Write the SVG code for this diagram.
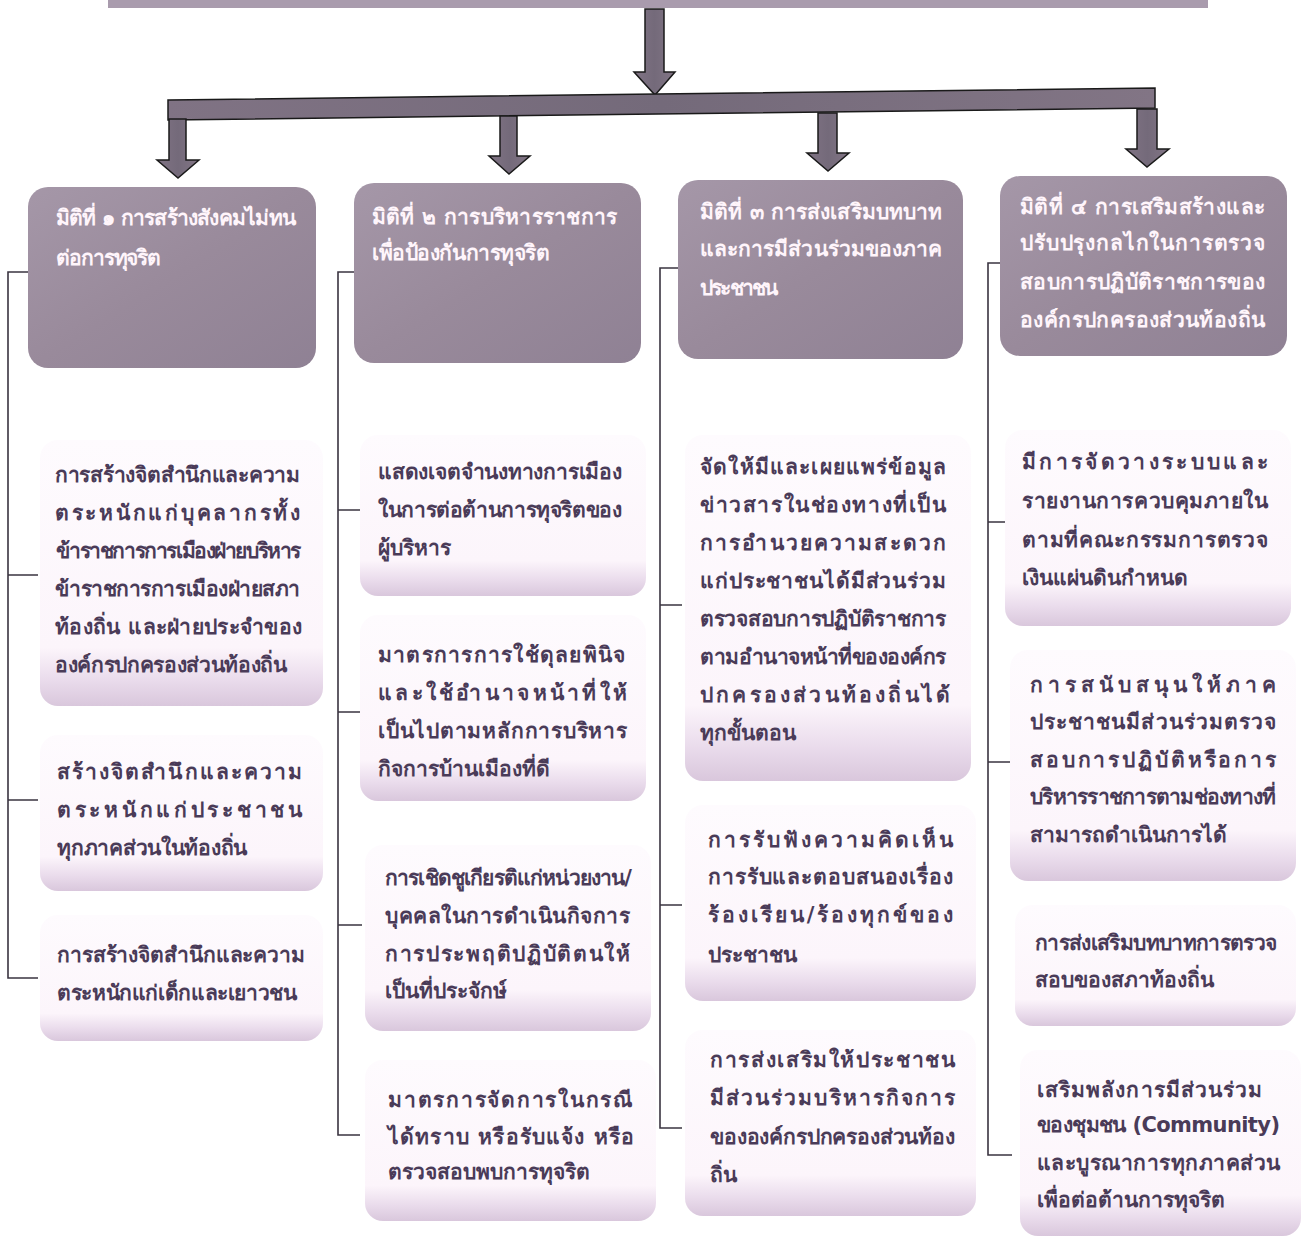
<svg xmlns="http://www.w3.org/2000/svg" width="1314" height="1245" viewBox="0 0 1314 1245">
<defs>
<linearGradient id="hdr" x1="0" y1="0" x2="1" y2="1">
<stop offset="0" stop-color="#a597a8"/><stop offset="0.5" stop-color="#998a9b"/><stop offset="1" stop-color="#8f8194"/>
</linearGradient>
<linearGradient id="item" x1="0" y1="0" x2="0" y2="1">
<stop offset="0" stop-color="#fefbfe"/><stop offset="0.78" stop-color="#fcf5fb"/><stop offset="0.9" stop-color="#eadcec"/><stop offset="1" stop-color="#d9c7dc"/>
</linearGradient>
<linearGradient id="arr" x1="0" y1="0" x2="1" y2="0">
<stop offset="0" stop-color="#807384"/><stop offset="0.5" stop-color="#746a7a"/><stop offset="1" stop-color="#827585"/>
</linearGradient>
</defs>
<style>
.hdr{fill:url(#hdr)}
.item{fill:url(#item)}
.ht{font-family:"DejaVu Sans","Noto Sans",sans-serif;font-size:21px;font-weight:bold;fill:#fff5fb}
.it{font-family:"DejaVu Sans","Noto Sans",sans-serif;font-size:21px;font-weight:bold;fill:#4a3b58}
.ln{stroke:#3a3440;stroke-width:1.6;fill:none}
.ar{fill:url(#arr);stroke:#1a1a1a;stroke-width:1.5;stroke-linejoin:miter}
</style>
<rect x="108" y="-4" width="1100" height="12" fill="#a99bad"/>
<g id="connectors">
<polygon class="ar" points="645,9 664,9 664,72 675,72 655,95 634,72 645,72"/>
<polygon class="ar" points="168,100 1155,88 1155,108 168,120"/>
<polygon class="ar" points="169,119 186,119 186,160 199,160 178,178 157,160 169,160"/>
<polygon class="ar" points="500,116 517,116 517,156 530,156 509,174 489,156 500,156"/>
<polygon class="ar" points="818,113 837,113 837,153 849,153 828,171 807,153 818,153"/>
<polygon class="ar" points="1137,109 1157,109 1157,149 1169,149 1147,167 1126,149 1137,149"/>
<path class="ln" d="M30,272 H8 V978 H38 M8,575 H38 M8,800 H38"/>
<path class="ln" d="M355,272 H338 V1135 H360 M338,510 H360 M338,712 H360 M338,925 H362"/>
<path class="ln" d="M678,268 H660 V1128 H682 M660,605 H682 M660,905 H682"/>
<path class="ln" d="M1000,263 H988 V1155 H1012 M988,522 H1010 M988,762 H1012"/>
</g>
<g id="h1"><rect class="hdr" x="28" y="187" width="288" height="181" rx="20"/>
<text class="ht" x="55" y="225" textLength="240" lengthAdjust="spacing">มิติที่ ๑ การสร้างสังคมไม่ทน</text>
<text class="ht" x="55" y="265" textLength="105" lengthAdjust="spacing">ต่อการทุจริต</text></g>
<g id="h2"><rect class="hdr" x="354" y="183" width="287" height="180" rx="20"/>
<text class="ht" x="372" y="224" textLength="245" lengthAdjust="spacing">มิติที่ ๒ การบริหารราชการ</text>
<text class="ht" x="372" y="260" textLength="178" lengthAdjust="spacing">เพื่อป้องกันการทุจริต</text></g>
<g id="h3"><rect class="hdr" x="678" y="180" width="285" height="179" rx="20"/>
<text class="ht" x="700" y="219" textLength="242" lengthAdjust="spacing">มิติที่ ๓ การส่งเสริมบทบาท</text>
<text class="ht" x="700" y="256" textLength="242" lengthAdjust="spacing">และการมีส่วนร่วมของภาค</text>
<text class="ht" x="700" y="295" textLength="78" lengthAdjust="spacing">ประชาชน</text></g>
<g id="h4"><rect class="hdr" x="1000" y="176" width="287" height="180" rx="20"/>
<text class="ht" x="1020" y="214" textLength="245" lengthAdjust="spacing">มิติที่ ๔ การเสริมสร้างและ</text>
<text class="ht" x="1020" y="250" textLength="245" lengthAdjust="spacing">ปรับปรุงกลไกในการตรวจ</text>
<text class="ht" x="1020" y="289" textLength="245" lengthAdjust="spacing">สอบการปฏิบัติราชการของ</text>
<text class="ht" x="1020" y="327" textLength="245" lengthAdjust="spacing">องค์กรปกครองส่วนท้องถิ่น</text></g>

<g id="c1i1"><rect class="item" x="40" y="440" width="283" height="266" rx="18"/>
<text class="it" x="55" y="482" textLength="245" lengthAdjust="spacing">การสร้างจิตสำนึกและความ</text>
<text class="it" x="55" y="520" textLength="245" lengthAdjust="spacing">ตระหนักแก่บุคลากรทั้ง</text>
<text class="it" x="55" y="558" textLength="245" lengthAdjust="spacing">ข้าราชการการเมืองฝ่ายบริหาร</text>
<text class="it" x="55" y="596" textLength="245" lengthAdjust="spacing">ข้าราชการการเมืองฝ่ายสภา</text>
<text class="it" x="55" y="634" textLength="247" lengthAdjust="spacing">ท้องถิ่น และฝ่ายประจำของ</text>
<text class="it" x="55" y="672" textLength="232" lengthAdjust="spacing">องค์กรปกครองส่วนท้องถิ่น</text></g>
<g id="c1i2"><rect class="item" x="40" y="735" width="283" height="156" rx="18"/>
<text class="it" x="57" y="779" textLength="245" lengthAdjust="spacing">สร้างจิตสำนึกและความ</text>
<text class="it" x="57" y="817" textLength="245" lengthAdjust="spacing">ตระหนักแก่ประชาชน</text>
<text class="it" x="57" y="855" textLength="190" lengthAdjust="spacing">ทุกภาคส่วนในท้องถิ่น</text></g>
<g id="c1i3"><rect class="item" x="40" y="915" width="283" height="126" rx="18"/>
<text class="it" x="57" y="962" textLength="248" lengthAdjust="spacing">การสร้างจิตสำนึกและความ</text>
<text class="it" x="57" y="1000" textLength="240" lengthAdjust="spacing">ตระหนักแก่เด็กและเยาวชน</text></g>

<g id="c2i1"><rect class="item" x="360" y="435" width="286" height="161" rx="18"/>
<text class="it" x="378" y="479" textLength="244" lengthAdjust="spacing">แสดงเจตจำนงทางการเมือง</text>
<text class="it" x="378" y="517" textLength="244" lengthAdjust="spacing">ในการต่อต้านการทุจริตของ</text>
<text class="it" x="378" y="555">ผู้บริหาร</text></g>
<g id="c2i2"><rect class="item" x="360" y="615" width="286" height="186" rx="18"/>
<text class="it" x="378" y="662" textLength="247" lengthAdjust="spacing">มาตรการการใช้ดุลยพินิจ</text>
<text class="it" x="378" y="700" textLength="249" lengthAdjust="spacing">และใช้อำนาจหน้าที่ให้</text>
<text class="it" x="378" y="738" textLength="249" lengthAdjust="spacing">เป็นไปตามหลักการบริหาร</text>
<text class="it" x="378" y="776">กิจการบ้านเมืองที่ดี</text></g>
<g id="c2i3"><rect class="item" x="365" y="845" width="286" height="186" rx="18"/>
<text class="it" x="385" y="885" textLength="247" lengthAdjust="spacing">การเชิดชูเกียรติแก่หน่วยงาน/</text>
<text class="it" x="385" y="923" textLength="245" lengthAdjust="spacing">บุคคลในการดำเนินกิจการ</text>
<text class="it" x="385" y="961" textLength="245" lengthAdjust="spacing">การประพฤติปฏิบัติตนให้</text>
<text class="it" x="385" y="998">เป็นที่ประจักษ์</text></g>
<g id="c2i4"><rect class="item" x="365" y="1060" width="291" height="161" rx="18"/>
<text class="it" x="388" y="1107" textLength="244" lengthAdjust="spacing">มาตรการจัดการในกรณี</text>
<text class="it" x="388" y="1144" textLength="246" lengthAdjust="spacing">ได้ทราบ หรือรับแจ้ง หรือ</text>
<text class="it" x="388" y="1179">ตรวจสอบพบการทุจริต</text></g>

<g id="c3i1"><rect class="item" x="685" y="435" width="286" height="346" rx="18"/>
<text class="it" x="700" y="474" textLength="246" lengthAdjust="spacing">จัดให้มีและเผยแพร่ข้อมูล</text>
<text class="it" x="700" y="512" textLength="246" lengthAdjust="spacing">ข่าวสารในช่องทางที่เป็น</text>
<text class="it" x="700" y="550" textLength="246" lengthAdjust="spacing">การอำนวยความสะดวก</text>
<text class="it" x="700" y="588" textLength="246" lengthAdjust="spacing">แก่ประชาชนได้มีส่วนร่วม</text>
<text class="it" x="700" y="626" textLength="246" lengthAdjust="spacing">ตรวจสอบการปฏิบัติราชการ</text>
<text class="it" x="700" y="664" textLength="246" lengthAdjust="spacing">ตามอำนาจหน้าที่ขององค์กร</text>
<text class="it" x="700" y="702" textLength="250" lengthAdjust="spacing">ปกครองส่วนท้องถิ่นได้</text>
<text class="it" x="700" y="740">ทุกขั้นตอน</text></g>
<g id="c3i2"><rect class="item" x="685" y="805" width="291" height="196" rx="18"/>
<text class="it" x="708" y="847" textLength="245" lengthAdjust="spacing">การรับฟังความคิดเห็น</text>
<text class="it" x="708" y="884" textLength="245" lengthAdjust="spacing">การรับและตอบสนองเรื่อง</text>
<text class="it" x="708" y="922" textLength="245" lengthAdjust="spacing">ร้องเรียน/ร้องทุกข์ของ</text>
<text class="it" x="708" y="962">ประชาชน</text></g>
<g id="c3i3"><rect class="item" x="685" y="1030" width="291" height="186" rx="18"/>
<text class="it" x="710" y="1067" textLength="245" lengthAdjust="spacing">การส่งเสริมให้ประชาชน</text>
<text class="it" x="710" y="1105" textLength="245" lengthAdjust="spacing">มีส่วนร่วมบริหารกิจการ</text>
<text class="it" x="710" y="1144" textLength="245" lengthAdjust="spacing">ขององค์กรปกครองส่วนท้อง</text>
<text class="it" x="710" y="1182">ถิ่น</text></g>

<g id="c4i1"><rect class="item" x="1005" y="430" width="286" height="196" rx="18"/>
<text class="it" x="1022" y="469" textLength="246" lengthAdjust="spacing">มีการจัดวางระบบและ</text>
<text class="it" x="1022" y="508" textLength="246" lengthAdjust="spacing">รายงานการควบคุมภายใน</text>
<text class="it" x="1022" y="547" textLength="246" lengthAdjust="spacing">ตามที่คณะกรรมการตรวจ</text>
<text class="it" x="1022" y="585">เงินแผ่นดินกำหนด</text></g>
<g id="c4i2"><rect class="item" x="1010" y="650" width="286" height="231" rx="18"/>
<text class="it" x="1030" y="692" textLength="246" lengthAdjust="spacing">การสนับสนุนให้ภาค</text>
<text class="it" x="1030" y="729" textLength="246" lengthAdjust="spacing">ประชาชนมีส่วนร่วมตรวจ</text>
<text class="it" x="1030" y="767" textLength="246" lengthAdjust="spacing">สอบการปฏิบัติหรือการ</text>
<text class="it" x="1030" y="804" textLength="246" lengthAdjust="spacing">บริหารราชการตามช่องทางที่</text>
<text class="it" x="1030" y="842">สามารถดำเนินการได้</text></g>
<g id="c4i3"><rect class="item" x="1015" y="905" width="281" height="121" rx="18"/>
<text class="it" x="1035" y="950" textLength="242" lengthAdjust="spacing">การส่งเสริมบทบาทการตรวจ</text>
<text class="it" x="1035" y="987">สอบของสภาท้องถิ่น</text></g>
<g id="c4i4"><rect class="item" x="1020" y="1050" width="281" height="186" rx="18"/>
<text class="it" x="1037" y="1097" textLength="225" lengthAdjust="spacing">เสริมพลังการมีส่วนร่วม</text>
<text class="it" x="1037" y="1132" textLength="243" lengthAdjust="spacing">ของชุมชน (Community)</text>
<text class="it" x="1037" y="1170" textLength="243" lengthAdjust="spacing">และบูรณาการทุกภาคส่วน</text>
<text class="it" x="1037" y="1207">เพื่อต่อต้านการทุจริต</text></g>
</svg>
